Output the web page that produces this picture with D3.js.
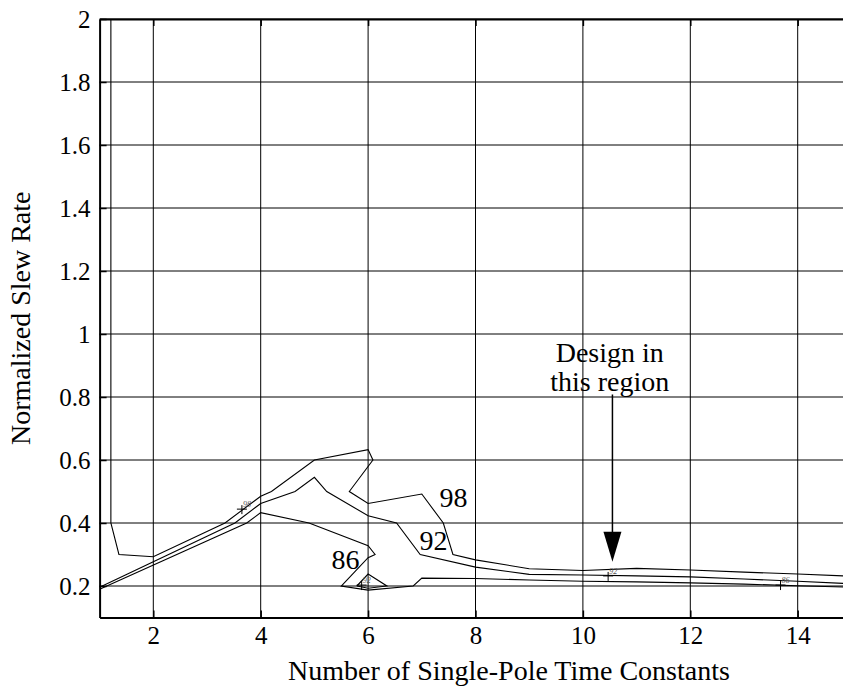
<!DOCTYPE html>
<html><head><meta charset="utf-8">
<script src="https://cdnjs.cloudflare.com/ajax/libs/d3/7.8.5/d3.min.js"></script>
<style>
body{margin:0;background:#fff}
text{font-family:"Liberation Serif","Times New Roman",serif;fill:#000}
</style>
</head><body>
<svg width="843" height="690"></svg>
<script>
const xTicks=[2,4,6,8,10,12,14]
const yTicks=[0.2,0.4,0.6,0.8,1,1.2,1.4,1.6,1.8,2]

// contour levels
const c98=[[1.21,2],[1.21,0.4],[1.36,0.3],[2,0.293],[3.335,0.4],[4,0.485],[4.2,0.5],[5,0.6],[6,0.633],[6.09,0.6],[5.65,0.5],[6,0.462],[7,0.492],[7.4,0.4],[7.58,0.3],[8,0.283],[9,0.255],[10,0.249],[11,0.256],[12,0.251],[13,0.244],[14,0.238],[15,0.231]]
const c92=[[1,0.196],[3.52,0.4],[4,0.462],[4.64,0.5],[5,0.545],[5.23,0.5],[6,0.423],[6.53,0.4],[6.97,0.3],[8,0.26],[9,0.237],[10,0.235],[11,0.232],[12,0.229],[13,0.222],[14,0.215],[15,0.207]]
const c86=[[1,0.19],[3.74,0.4],[4,0.433],[4.9,0.4],[6,0.328],[6.13,0.3],[6,0.29],[5.5,0.2],[6,0.187],[6.84,0.2],[7,0.225],[8,0.224],[9,0.219],[10,0.215],[11,0.213],[12,0.21],[13,0.206],[14,0.201],[15,0.196]]
const island92=[[5.79,0.2],[6,0.238],[6.35,0.2],[6,0.193],[5.79,0.2]]

const bigLabels=[["98",7.59,0.45],["92",7.22,0.314],["86",5.58,0.254]]
const smallLabels=[["98",3.65,0.444],["92",5.88,0.203],["92",10.47,0.232],["86",13.68,0.203]]
const note=["Design in","this region"]
const noteAt=[10.5,0.911,0.819]
const arrowAt=[10.55,0.808,0.277]

const svg=d3.select("svg")
const x=d3.scaleLinear().domain([1,15]).range([99.6,851.4])
const y=d3.scaleLinear().domain([0.1,2]).range([617.5,19])

svg.append("defs").append("clipPath").attr("id","pa").append("rect")
.attr("x",x(1)).attr("y",y(2)).attr("width",x(15)-x(1)).attr("height",y(0.1)-y(2))

const g=svg.append("g")
// grid
g.selectAll(".gx").data(xTicks).join("line")
.attr("x1",d=>x(d)).attr("x2",d=>x(d)).attr("y1",y(0.1)).attr("y2",y(2))
.attr("stroke","#000").attr("stroke-width",1)
g.selectAll(".gy").data(yTicks).join("line").attr("class","gy")
.attr("x1",x(1)).attr("x2",x(15)).attr("y1",d=>y(d)).attr("y2",d=>y(d))
.attr("stroke","#000").attr("stroke-width",1)

const fmt=d=>String(+d.toFixed(1))
const bx=svg.append("g").attr("transform",`translate(0,${y(0.1)})`)
.call(d3.axisBottom(x).tickValues(xTicks).tickSize(-7).tickSizeOuter(0).tickPadding(9).tickFormat(fmt))
const tx=svg.append("g").attr("transform",`translate(0,${y(2)})`)
.call(d3.axisTop(x).tickValues(xTicks).tickSize(-7).tickSizeOuter(0).tickFormat(""))
const ly=svg.append("g").attr("transform",`translate(${x(1)},0)`)
.call(d3.axisLeft(y).tickValues(yTicks).tickSize(-7).tickSizeOuter(0).tickPadding(9).tickFormat(fmt))
;[bx,tx,ly].forEach(a=>{
a.selectAll("text").attr("font-size",25).attr("font-family",null)
a.select(".domain").attr("stroke-width",2)
a.selectAll(".tick line").attr("stroke-width",1.5)
})

const line=d3.line().x(d=>x(d[0])).y(d=>y(d[1]))
const cg=svg.append("g").attr("clip-path","url(#pa)")
;[c98,c92,c86,island92].forEach(c=>{
cg.append("path").attr("d",line(c)).attr("fill","none").attr("stroke","#000").attr("stroke-width",1.1)
})

bigLabels.forEach(l=>{
svg.append("text").attr("x",x(l[1])).attr("y",y(l[2])).attr("text-anchor","middle").attr("font-size",28).text(l[0])
})
smallLabels.forEach(l=>{
let px=x(l[1]),py=y(l[2])
svg.append("path").attr("d",`M${px-5},${py}H${px+5}M${px},${py-4}V${py+5}`).attr("stroke","#000").attr("stroke-width",1)
svg.append("text").attr("x",px+1).attr("y",py-2).attr("font-size",8).style("fill","#555").attr("font-style","italic").text(l[0])
})

note.forEach((t,i)=>{
svg.append("text").attr("x",x(noteAt[0])).attr("y",y(noteAt[i+1])).attr("text-anchor","middle").attr("font-size",28).text(t)
})
let ax=x(arrowAt[0]),tip=y(arrowAt[2])
svg.append("line").attr("x1",ax).attr("x2",ax).attr("y1",y(arrowAt[1])).attr("y2",tip-28).attr("stroke","#000").attr("stroke-width",1.5)
svg.append("path").attr("d",`M${ax-9},${tip-30}L${ax+9},${tip-30}L${ax},${tip}Z`).attr("fill","#000")

svg.append("text").attr("x",509).attr("y",680).attr("text-anchor","middle").attr("font-size",28).text("Number of Single-Pole Time Constants")
svg.append("text").attr("transform",`translate(30,${(y(0.1)+y(2))/2}) rotate(-90)`).attr("text-anchor","middle").attr("font-size",28).text("Normalized Slew Rate")
</script>
</body></html>
